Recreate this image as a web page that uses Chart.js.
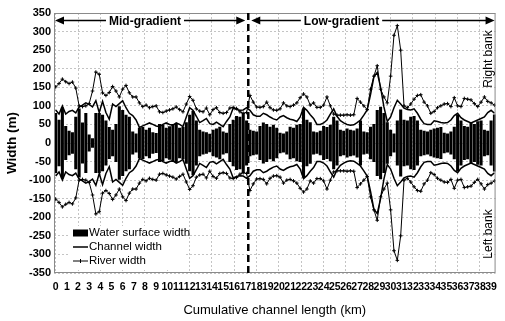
<!DOCTYPE html>
<html>
<head>
<meta charset="utf-8">
<script src="https://cdn.jsdelivr.net/npm/chart.js@4.4.1/dist/chart.umd.min.js"></script>
<style>
html, body { margin: 0; padding: 0; background: #fff; }
</style>
</head>
<body>
<canvas id="chart" width="505" height="321"></canvas>
<script>
// distance along the channel (km) for every cross-section
const km = [
  0.0, 0.3, 0.6, 0.9, 1.2, 1.5, 1.8, 2.1, 2.4, 2.7,
  3.0, 3.3, 3.6, 3.9, 4.2, 4.5, 4.8, 5.1, 5.4, 5.7,
  6.0, 6.3, 6.6, 6.9, 7.2, 7.5, 7.8, 8.1, 8.4, 8.7,
  9.0, 9.3, 9.6, 9.9, 10.2, 10.5, 10.8, 11.1, 11.4, 11.7,
  12.0, 12.3, 12.6, 12.9, 13.2, 13.5, 13.8, 14.1, 14.4, 14.7,
  15.0, 15.3, 15.6, 15.9, 16.2, 16.5, 16.8, 17.1, 17.4, 17.7,
  18.0, 18.3, 18.6, 18.9, 19.2, 19.5, 19.8, 20.1, 20.4, 20.7,
  21.0, 21.3, 21.6, 21.9, 22.2, 22.5, 22.8, 23.1, 23.4, 23.7,
  24.0, 24.3, 24.6, 24.9, 25.2, 25.5, 25.8, 26.1, 26.4, 26.7,
  27.0, 27.3, 27.6, 27.9, 28.2, 28.5, 28.8, 29.1, 29.4, 29.7,
  30.0, 30.3, 30.6, 30.9, 31.2, 31.5, 31.8, 32.1, 32.4, 32.7,
  33.0, 33.3, 33.6, 33.9, 34.2, 34.5, 34.8, 35.1, 35.4, 35.7,
  36.0, 36.3, 36.6, 36.9, 37.2, 37.5, 37.8, 38.1, 38.4, 38.7,
  39.0, 39.3
];

// half widths (m), drawn to the right bank (+) and the left bank (-)
const riverHalf = [
  151, 160, 172, 165, 160, 164, 148, 100, 98, 100,
  106, 140, 191, 185, 135, 128, 136, 152, 140, 124,
  145, 155, 135, 124, 124, 108, 98, 102, 95, 98,
  100, 84, 82, 86, 89, 92, 97, 90, 84, 105,
  125, 115, 92, 86, 84, 94, 76, 90, 95, 82,
  80, 82, 94, 96, 93, 84, 80, 82, 128, 110,
  97, 96, 98, 110, 95, 89, 88, 92, 108, 100,
  98, 102, 108, 122, 132, 124, 102, 108, 96, 96,
  102, 124, 100, 78, 75, 75, 75, 76, 75, 76,
  120, 110, 100, 90, 145, 180, 208, 145, 124, 108,
  180, 290, 316, 250, 100, 95, 105, 118, 128, 130,
  110, 100, 80, 85, 95, 100, 105, 106, 98, 122,
  100, 98, 120, 118, 116, 106, 98, 110, 124, 112,
  108, 102
];

const channelHalf = [
  89, 78, 100, 78, 85, 88, 81, 97, 102, 108,
  104, 97, 114, 82, 112, 82, 64, 105, 98, 106,
  114, 95, 80, 74, 62, 42, 46, 50, 54, 50,
  46, 44, 50, 54, 50, 48, 54, 50, 44, 70,
  95, 88, 72, 55, 60, 66, 52, 50, 56, 50,
  44, 58, 70, 94, 90, 88, 89, 95, 88, 76,
  72, 72, 80, 76, 70, 65, 62, 70, 74, 68,
  64, 62, 58, 70, 96, 88, 76, 66, 50, 50,
  54, 62, 78, 92, 72, 60, 54, 50, 48, 49,
  55, 62, 75, 89, 130, 178, 190, 150, 97, 58,
  70, 95, 115, 105, 94, 90, 89, 92, 80, 64,
  52, 50, 50, 60, 58, 55, 54, 55, 62, 74,
  80, 68, 62, 58, 54, 58, 62, 66, 70, 82,
  88, 80
];

const waterHalf = [
  80, 62, 95, 45, 32, 28, 70, 92, 54, 80,
  22, 12, 80, 80, 75, 60, 42, 35, 50, 98,
  88, 75, 70, 30, 25, 40, 42, 35, 40, 28,
  26, 50, 48, 40, 44, 50, 50, 40, 42, 55,
  75, 85, 60, 35, 30, 28, 24, 35, 38, 43,
  30, 27, 50, 62, 72, 70, 80, 60, 35, 32,
  30, 45, 54, 50, 43, 48, 40, 27, 25, 30,
  43, 40, 48, 50, 92, 62, 55, 30, 28, 32,
  45, 42, 48, 70, 60, 35, 32, 38, 35, 33,
  38, 60, 30, 28, 43, 50, 88, 97, 80, 55,
  35, 25, 60, 89, 62, 60, 70, 72, 60, 35,
  32, 30, 35, 38, 40, 42, 27, 25, 30, 43,
  76, 60, 45, 43, 54, 50, 58, 60, 35, 32,
  60, 76
];

const xTicks = [0, 1, 2, 3, 4, 5, 6, 7, 8, 9, 10, 11, 12, 13, 14, 15, 16, 17, 18, 19,
  20, 21, 22, 23, 24, 25, 26, 27, 28, 29, 30, 31, 32, 33, 34, 35, 36, 37, 38, 39];

const boundaryKm = 17.25;   // mid-gradient / low-gradient limit
const arrowLevel = 330;
const midLabelKm = 8.0;
const lowLabelKm = 25.6;

const FONT = '"Liberation Sans", Arial, sans-serif';

function drawArrow(ctx, x1, x2, y) {
  ctx.lineWidth = 1.5;
  ctx.beginPath();
  ctx.moveTo(x1 + 6, y);
  ctx.lineTo(x2 - 6, y);
  ctx.stroke();
  ctx.beginPath();
  ctx.moveTo(x1, y); ctx.lineTo(x1 + 9, y - 4); ctx.lineTo(x1 + 9, y + 4); ctx.closePath();
  ctx.moveTo(x2, y); ctx.lineTo(x2 - 9, y - 4); ctx.lineTo(x2 - 9, y + 4); ctx.closePath();
  ctx.fill();
}

function labelOnWhite(ctx, text, cx, cy) {
  const w = ctx.measureText(text).width;
  ctx.fillStyle = '#fff';
  ctx.fillRect(cx - w / 2 - 3, cy - 7, w + 6, 14);
  ctx.fillStyle = '#000';
  ctx.fillText(text, cx, cy);
}

const overlay = {
  id: 'overlay',
  afterDatasetsDraw(chart) {
    const { ctx, chartArea: a, scales: { x, y } } = chart;
    ctx.save();

    // plot frame
    ctx.strokeStyle = '#8a8a8a';
    ctx.lineWidth = 1;
    ctx.strokeRect(a.left + 0.5, a.top + 0.5, a.width - 1, a.height - 1);

    // boundary between the two reaches
    const bx = x.getPixelForValue(boundaryKm);
    ctx.strokeStyle = '#000';
    ctx.lineWidth = 2.5;
    ctx.setLineDash([7, 4]);
    ctx.beginPath();
    ctx.moveTo(bx, a.top);
    ctx.lineTo(bx, a.bottom);
    ctx.stroke();
    ctx.setLineDash([]);

    // reach arrows
    const ay = y.getPixelForValue(arrowLevel);
    ctx.fillStyle = '#000';
    drawArrow(ctx, a.left + 1, bx - 3, ay);
    drawArrow(ctx, bx + 3, a.right - 1, ay);
    ctx.font = 'bold 12px ' + FONT;
    ctx.textAlign = 'center';
    ctx.textBaseline = 'middle';
    labelOnWhite(ctx, 'Mid-gradient', x.getPixelForValue(midLabelKm), ay + 1);
    labelOnWhite(ctx, 'Low-gradient', x.getPixelForValue(lowLabelKm), ay + 1);

    // bank labels
    ctx.font = '12px ' + FONT;
    ctx.fillStyle = '#000';
    [['Right bank', 226], ['Left bank', -245]].forEach(([t, v]) => {
      ctx.save();
      ctx.translate(a.right - 7, y.getPixelForValue(v));
      ctx.rotate(-Math.PI / 2);
      ctx.fillText(t, 0, 0);
      ctx.restore();
    });

    // legend
    const lx = a.left + 19, top = a.bottom - 47;
    ctx.fillStyle = '#fff';
    ctx.fillRect(lx - 3, top, 114, 44);
    ctx.font = '11.5px ' + FONT;
    ctx.textAlign = 'left';
    ctx.fillStyle = '#000';
    const r1 = top + 7, r2 = top + 21, r3 = top + 35;
    ctx.fillRect(lx, r1 - 3.5, 15, 7);
    ctx.fillText('Water surface width', lx + 16, r1);
    ctx.lineWidth = 1.5;
    ctx.beginPath(); ctx.moveTo(lx, r2); ctx.lineTo(lx + 15, r2); ctx.stroke();
    ctx.fillText('Channel width', lx + 16, r2);
    ctx.lineWidth = 1;
    ctx.beginPath(); ctx.moveTo(lx, r3); ctx.lineTo(lx + 15, r3);
    ctx.moveTo(lx + 7.5, r3 - 2); ctx.lineTo(lx + 7.5, r3 + 2); ctx.stroke();
    ctx.fillText('River width', lx + 16, r3);

    ctx.restore();
  }
};

const lineSet = (label, values, sign, width, point) => ({
  type: 'line',
  label: label,
  data: km.map((k, i) => ({ x: k, y: sign * values[i] })),
  borderColor: '#000',
  backgroundColor: '#000',
  borderWidth: width,
  pointStyle: 'cross',
  pointRadius: point ? 1.8 : 0,
  pointBorderWidth: 1,
  pointBorderColor: '#000',
  tension: 0,
  order: 1
});

new Chart(document.getElementById('chart'), {
  type: 'line',
  data: {
    datasets: [
      lineSet('River width', riverHalf, 1, 1, true),
      lineSet('River width (left)', riverHalf, -1, 1, true),
      lineSet('Channel width', channelHalf, 1, 1.5, false),
      lineSet('Channel width (left)', channelHalf, -1, 1.5, false),
      {
        type: 'bar',
        label: 'Water surface width',
        data: km.map((k, i) => ({ x: k, y: [-waterHalf[i], waterHalf[i]] })),
        backgroundColor: '#000',
        barThickness: 2.4,
        grouped: false,
        order: 3
      }
    ]
  },
  options: {
    responsive: false,
    animation: false,
    layout: { padding: { top: 13, right: 1, bottom: 0, left: 0 } },
    plugins: { legend: { display: false }, tooltip: { enabled: false } },
    scales: {
      x: {
        type: 'linear',
        min: -0.15,
        max: 39.4,
        offset: false,
        afterBuildTicks: s => { s.ticks = xTicks.map(v => ({ value: v })); },
        afterFit: s => { s.height = 48; },
        ticks: {
          autoSkip: false, maxRotation: 0, minRotation: 0, padding: 8,
          color: '#000', font: { family: FONT, size: 10.5, weight: 'bold' },
          callback: v => String(v)
        },
        grid: {
          offset: false, drawTicks: false,
          color: c => (c.tick && c.tick.value % 2 === 0) ? '#c4c4c4' : 'rgba(0,0,0,0)'
        },
        border: { display: false, dash: [2, 2] },
        title: {
          display: true, text: 'Cumulative channel length (km)', color: '#000',
          font: { family: FONT, size: 13 }, padding: { top: 0, bottom: 3 }
        }
      },
      y: {
        min: -350,
        max: 350,
        afterFit: s => { s.width = 54; },
        ticks: { stepSize: 50, padding: 3, color: '#000', font: { family: FONT, size: 11, weight: 'bold' } },
        grid: { drawTicks: false, color: '#c4c4c4' },
        border: { display: false, dash: [2, 2] },
        title: {
          display: true, text: 'Width (m)', color: '#000',
          font: { family: FONT, size: 13.5, weight: 'bold' }, padding: { top: 4, bottom: 0 }
        }
      }
    }
  },
  plugins: [overlay]
});
</script>
</body>
</html>
